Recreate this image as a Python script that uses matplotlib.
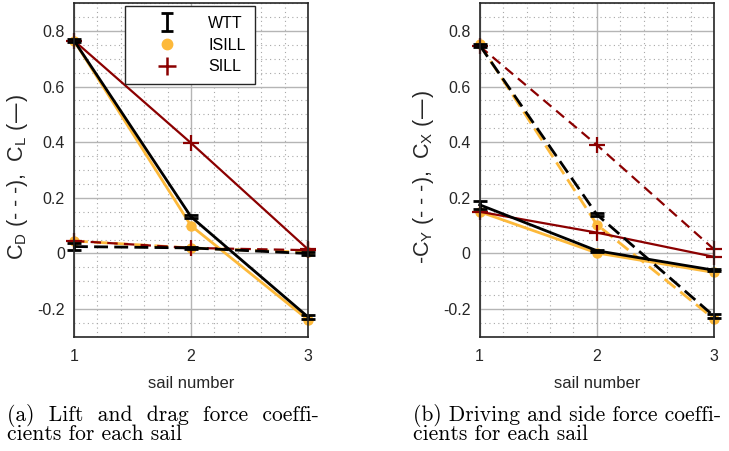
import matplotlib
matplotlib.use("Agg")
import matplotlib.pyplot as plt
from matplotlib.ticker import MultipleLocator
from matplotlib.lines import Line2D
from matplotlib.legend_handler import HandlerBase
from matplotlib.font_manager import FontProperties

plt.rcParams['font.family'] = ['Liberation Sans', 'DejaVu Sans']
plt.rcParams['mathtext.default'] = 'regular'

sails = [1, 2, 3]

# Lift / drag coefficients
wtt_cl = [0.765, 0.132, -0.228]
wtt_cd = [0.025, 0.020, 0.000]
wtt_cl_err = [0.006, 0.006, 0.006]
wtt_cd_err = [0.012, 0.004, 0.004]
isill_cl = [0.765, 0.100, -0.238]
isill_cd = [0.045, 0.020, 0.004]
sill_cl = [0.765, 0.397, 0.015]
sill_cd = [0.045, 0.020, 0.012]

# Driving / side force coefficients
wtt_cx = [0.175, 0.010, -0.060]
wtt_mcy = [0.748, 0.140, -0.225]
wtt_cx_err = [0.015, 0.004, 0.004]
wtt_mcy_err = [0.006, 0.006, 0.006]
isill_cx = [0.150, 0.002, -0.068]
isill_mcy = [0.752, 0.104, -0.235]
sill_cx = [0.150, 0.075, -0.012]
sill_mcy = [0.745, 0.390, 0.015]

legend_labels = ['WTT', 'ISILL', 'SILL']
captions = [("(a) Lift and drag force coeffi-", "cients for each sail"),
            ("(b) Driving and side force coeffi-", "cients for each sail")]
ylabels = [r'C$_D$ (- - -),  C$_L$ (—)', r'-C$_Y$ (- - -),  C$_X$ (—)']

ORANGE = '#FDB93A'
RED = '#8B0000'
TXT = '#262626'

W, H = 729, 451
fig = plt.figure(figsize=(W / 100, H / 100), dpi=100)
ax1 = fig.add_axes([0.1015, 0.2528, 0.321, 0.7405])
ax2 = fig.add_axes([0.658, 0.2528, 0.3214, 0.7405])


def dashed(lw, on, off):
    # dash lengths given in points, independent of line width
    return (0, (on / lw, off / lw))


def panel(ax, w_s, w_s_e, w_d, w_d_e, i_s, i_d, s_s, s_d):
    # solid lines
    ax.plot(sails, i_s, '-', color=ORANGE, lw=2, marker='o', ms=6.5,
            zorder=3, clip_on=False)
    ax.plot(sails, s_s, '-', color=RED, lw=1.6, marker='+', ms=11, mew=1.6,
            zorder=4, clip_on=False)
    eb = ax.errorbar(sails, w_s, yerr=w_s_e, fmt='-', color='k', lw=2,
                     capsize=5, capthick=2, elinewidth=2, zorder=5)
    for art in eb.get_children():
        art.set_clip_on(False)
    # dashed lines
    ax.plot(sails, i_d, linestyle=dashed(2, 10, 4.5), color=ORANGE, lw=2,
            marker='o', ms=6.5, zorder=3, clip_on=False)
    ax.plot(sails, s_d, linestyle=dashed(1.6, 7.5, 4.5), color=RED, lw=1.6,
            marker='+', ms=11, mew=1.6, zorder=4, clip_on=False)
    eb = ax.errorbar(sails, w_d, yerr=w_d_e, fmt='-', color='k', lw=2,
                     capsize=5, capthick=2, elinewidth=2, zorder=5)
    eb.lines[0].set_linestyle(dashed(2, 10, 4.5))
    for art in eb.get_children():
        art.set_clip_on(False)

    ax.set_xlim(1, 3)
    ax.set_ylim(-0.3, 0.9)
    ax.set_xticks([1, 2, 3])
    ax.set_yticks([-0.2, 0, 0.2, 0.4, 0.6, 0.8])
    ax.set_yticklabels(['-0.2', '0', '0.2', '0.4', '0.6', '0.8'])
    ax.xaxis.set_minor_locator(MultipleLocator(0.2))
    ax.yaxis.set_minor_locator(MultipleLocator(0.05))
    ax.grid(True, which='major', color='#b5b5b5', lw=1.0)
    ax.grid(True, which='minor', color='#a8a8a8', lw=0.8, linestyle=(0, (1, 3)))
    ax.set_axisbelow(True)
    ax.tick_params(which='both', length=0, labelsize=11.5, colors=TXT)
    ax.tick_params(axis='y', pad=6.5)
    ax.tick_params(axis='x', pad=9)
    for s in ax.spines.values():
        s.set_color(TXT)
        s.set_linewidth(1.2)
        s.set_zorder(6)
    ax.set_xlabel('sail number', fontsize=12, color=TXT, labelpad=8)


panel(ax1, wtt_cl, wtt_cl_err, wtt_cd, wtt_cd_err, isill_cl, isill_cd, sill_cl, sill_cd)
panel(ax2, wtt_cx, wtt_cx_err, wtt_mcy, wtt_mcy_err, isill_cx, isill_mcy, sill_cx, sill_mcy)

ax1.set_ylabel(ylabels[0], fontsize=15.5, color=TXT)
ax2.set_ylabel(ylabels[1], fontsize=15.5, color=TXT)
ax1.yaxis.set_label_coords(-0.19, 0.479)
ax2.yaxis.set_label_coords(-0.185, 0.479)


class ErrorbarGlyph(HandlerBase):
    """Legend key drawn as an 'I' shaped error bar."""

    def create_artists(self, legend, orig_handle, xdescent, ydescent, width,
                       height, fontsize, trans):
        cx = width / 2 - xdescent
        cy = height / 2 - ydescent
        h = 6.5
        c = 4.3
        kw = dict(color='k', lw=2, transform=trans, solid_capstyle='butt')
        return [Line2D([cx, cx], [cy - h, cy + h], **kw),
                Line2D([cx - c, cx + c], [cy + h, cy + h], **kw),
                Line2D([cx - c, cx + c], [cy - h, cy - h], **kw)]


h_wtt = Line2D([], [], color='k')
h_isill = Line2D([], [], color=ORANGE, marker='o', ms=7.5, ls='none')
h_sill = Line2D([], [], color=RED, marker='+', ms=13, mew=1.8, ls='none')
leg = ax1.legend([h_wtt, h_isill, h_sill], legend_labels,
                 loc='upper left', bbox_to_anchor=(0.218, 0.99),
                 fontsize=11.5, frameon=True, fancybox=False, edgecolor=TXT,
                 framealpha=1, handlelength=4.1, handletextpad=0.5,
                 borderpad=0.6, labelspacing=0.42, borderaxespad=0,
                 handler_map={h_wtt: ErrorbarGlyph()})
leg.get_frame().set_linewidth(1.0)
leg.set_zorder(10)

# captions: two-line blocks, first line widened to the column width
CAP_FS = 15.5
CAP_PITCH = 17.0
renderer = fig.canvas.get_renderer()
cap_fp = FontProperties(family='cmr10', size=CAP_FS)


def text_w(s):
    w, _, _ = renderer.get_text_width_height_descent(s, cap_fp, ismath=False)
    return w


space_w = text_w('a a') - text_w('aa')
_, lp_h, lp_d = renderer.get_text_width_height_descent('lp', cap_fp, ismath=False)
cap_linespacing = (CAP_PITCH - lp_d) / (lp_h - lp_d)


def caption(x0, x1, base2, line1, line2):
    words = line1.split(' ')
    gap = ((x1 - x0) - sum(text_w(w) for w in words)) / (len(words) - 1)
    n = max(1, int(gap / space_w))
    first = (' ' * n).join(words)
    # 'baseline' anchors the last line of a multi-line text
    fig.text(x0 / W, 1 - base2 / H, first + '\n' + line2, family='cmr10',
             fontsize=CAP_FS, va='baseline', ha='left', ma='left',
             linespacing=cap_linespacing)


caption(7, 323, 440, *captions[0])
caption(413, 719, 440, *captions[1])

fig.savefig('out.png', dpi=100)
